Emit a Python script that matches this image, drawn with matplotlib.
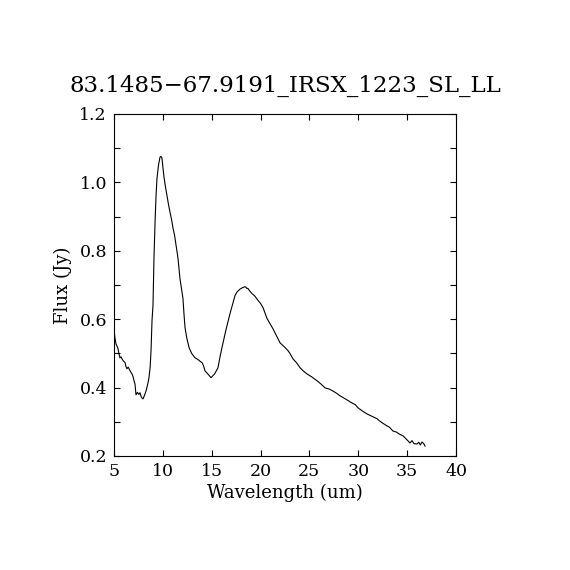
import matplotlib
matplotlib.use("Agg")
import matplotlib.pyplot as plt
from matplotlib.ticker import MultipleLocator

# Spectrum
wavelength = [5.0, 5.1, 5.2, 5.3, 5.41, 5.5, 5.61, 5.72, 5.82, 5.95, 6.13, 6.22, 6.33, 6.45,
              6.64, 6.72, 6.84, 6.95, 7.05, 7.15, 7.25, 7.4, 7.55, 7.66, 7.8, 7.97, 8.1,
              8.28, 8.45, 8.58, 8.7, 8.79, 8.89, 8.99, 9.09, 9.2, 9.3, 9.4, 9.55, 9.71,
              9.8, 9.91, 10.0, 10.12, 10.25, 10.42, 10.58, 10.73, 10.9, 11.04, 11.2, 11.35,
              11.55, 11.75, 11.9, 12.06, 12.16, 12.27, 12.45, 12.68, 12.95, 13.29, 13.6,
              13.85, 14.01, 14.15, 14.31, 14.6, 14.93, 15.3, 15.64, 15.85, 16.05, 16.45,
              16.87, 17.1, 17.38, 17.6, 17.9, 18.2, 18.45, 18.6, 18.71, 18.9, 19.12, 19.4,
              19.74, 20.0, 20.25, 20.45, 20.66, 20.97, 21.27, 21.6, 21.99, 22.4, 22.81,
              23.0, 23.32, 23.7, 24.04, 24.4, 24.75, 25.2, 25.78, 26.2, 26.6, 27.0, 27.41,
              27.8, 28.13, 28.5, 28.9, 29.36, 29.7, 29.97, 30.4, 30.89, 31.4, 31.92, 32.2,
              32.5, 32.94, 33.2, 33.55, 33.9, 34.2, 34.58, 34.9, 35.1, 35.29, 35.5, 35.7,
              36.0, 36.2, 36.35, 36.52, 36.7, 36.83]
flux = [0.567, 0.545, 0.528, 0.522, 0.514, 0.5, 0.487, 0.49, 0.484, 0.478, 0.473, 0.462,
        0.455, 0.46, 0.449, 0.445, 0.44, 0.432, 0.42, 0.41, 0.379, 0.386, 0.38, 0.385,
        0.372, 0.367, 0.376, 0.39, 0.41, 0.429, 0.46, 0.508, 0.596, 0.64, 0.778, 0.883,
        0.96, 1.012, 1.05, 1.074, 1.076, 1.071, 1.045, 1.015, 0.99, 0.962, 0.935, 0.913,
        0.89, 0.866, 0.845, 0.816, 0.778, 0.719, 0.69, 0.66, 0.616, 0.575, 0.545, 0.517,
        0.5, 0.487, 0.482, 0.476, 0.473, 0.465, 0.449, 0.44, 0.429, 0.44, 0.458, 0.49,
        0.517, 0.568, 0.616, 0.64, 0.669, 0.68, 0.688, 0.693, 0.695, 0.69, 0.69, 0.682,
        0.675, 0.668, 0.655, 0.646, 0.634, 0.618, 0.602, 0.587, 0.572, 0.553, 0.531,
        0.52, 0.508, 0.5, 0.484, 0.472, 0.458, 0.448, 0.44, 0.432, 0.42, 0.41, 0.399,
        0.396, 0.39, 0.383, 0.376, 0.37, 0.363, 0.355, 0.35, 0.341, 0.332, 0.323, 0.316,
        0.309, 0.302, 0.296, 0.288, 0.284, 0.273, 0.27, 0.264, 0.259, 0.25, 0.244,
        0.238, 0.245, 0.236, 0.235, 0.24, 0.232, 0.241, 0.236, 0.229]

title = "83.1485\u221267.9191_IRSX_1223_SL_LL"

plt.rcParams["font.family"] = ["DejaVu Serif"]

fig = plt.figure(figsize=(5.7, 5.7), dpi=100)
ax = fig.add_axes([0.2, 0.2, 0.6, 0.6])

ax.plot(wavelength, flux, color="black", linewidth=0.8)

ax.set_xlim(5, 40)
ax.set_ylim(0.2, 1.2)
ax.xaxis.set_major_locator(MultipleLocator(5))
ax.yaxis.set_major_locator(MultipleLocator(0.2))
ax.yaxis.set_minor_locator(MultipleLocator(0.1))
ax.yaxis.set_major_formatter(plt.FormatStrFormatter("%.1f"))

ax.tick_params(which="both", direction="in", top=True, right=True,
               length=4, width=0.8, labelsize=12.5)
ax.tick_params(axis="x", pad=5)
ax.tick_params(axis="y", pad=5)
for s in ax.spines.values():
    s.set_linewidth(0.8)

ax.set_xlabel("Wavelength (um)", fontsize=13, labelpad=3)
ax.set_ylabel("Flux (Jy)", fontsize=13, labelpad=5)
ax.set_title(title, fontsize=16.5, pad=16)

fig.savefig("out.png", dpi=100)
